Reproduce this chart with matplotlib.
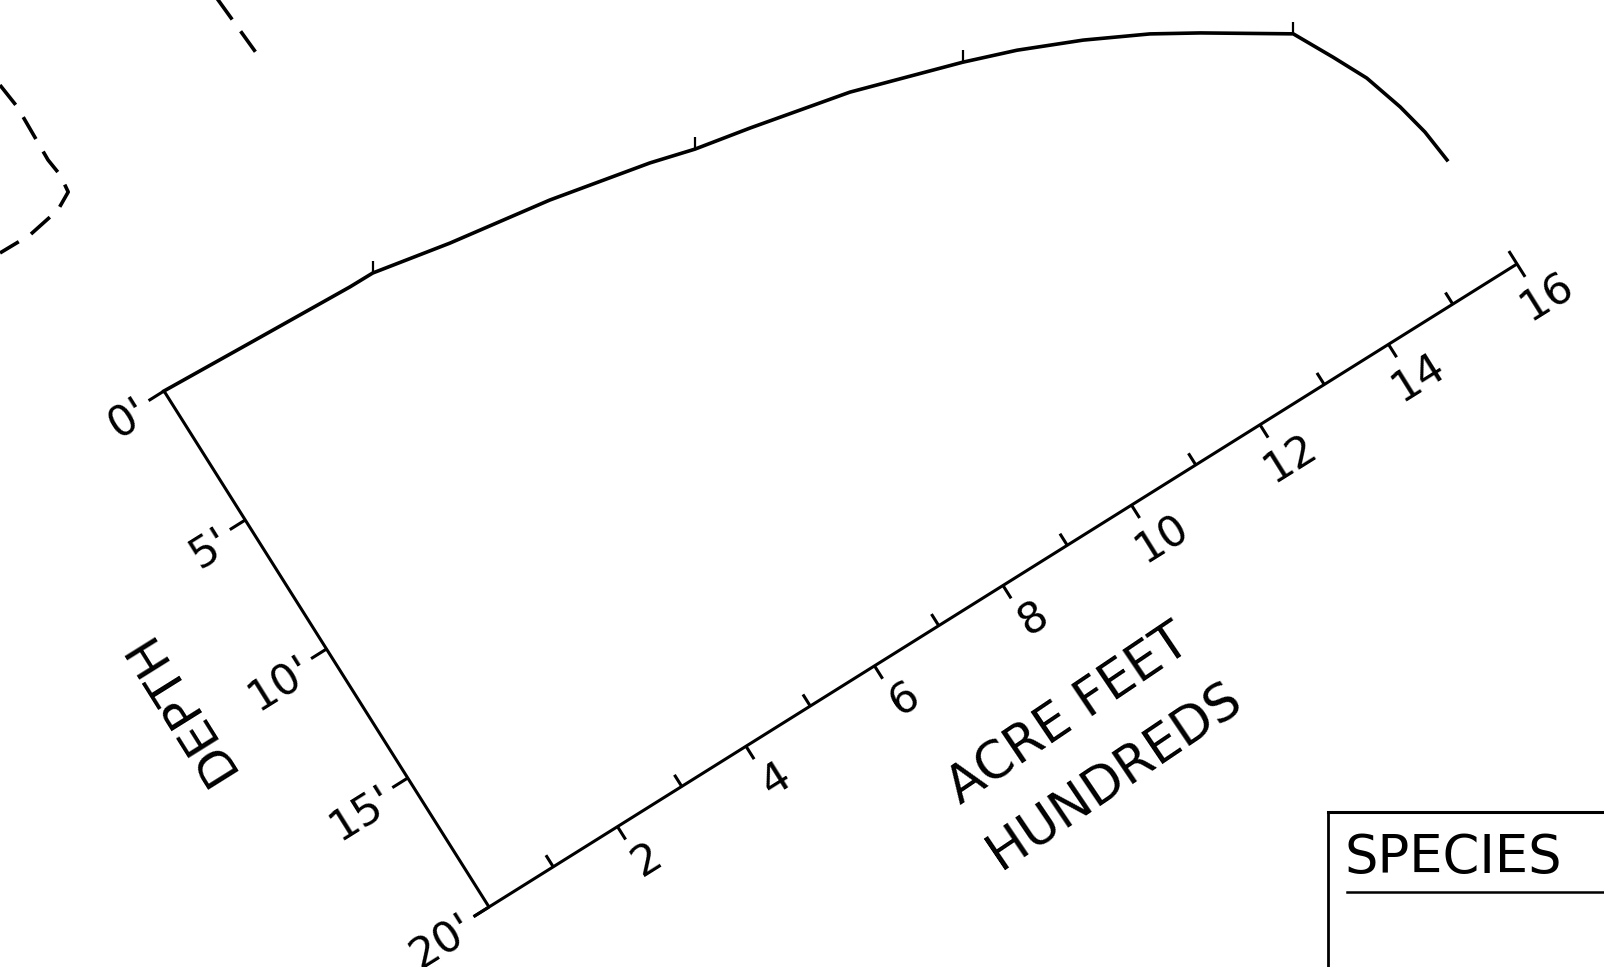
import matplotlib.pyplot as plt
from matplotlib.transforms import Affine2D

# depth scale (feet) and storage scale (acre feet, hundreds)
depth_ticks = [0, 5, 10, 15, 20]
depth_labels = ["0'", "5'", "10'", "15'", "20'"]
acre_ticks = list(range(1, 17))
acre_labels = [2, 4, 6, 8, 10, 12, 14, 16]

# capacity curve
curve_acre = [0, 1.30, 2.81, 3.16, 4.23, 5.65, 7.03, 7.63, 8.39, 9.76, 11.23,
              11.92, 12.73, 13.52, 14.09, 15.12, 15.40, 15.63, 15.80, 15.90, 15.95]
curve_depth = [0, 0.16, 0.34, 0.35, 0.86, 1.40, 2.11, 2.51, 2.88, 3.62, 4.75,
               5.36, 6.23, 7.22, 8.07, 9.71, 11.05, 12.22, 13.60, 14.73, 15.89]
curve_marks = [3, 7, 10, 15]

# dashed outlines at the upper left
outline_acre = [0.32, 0.36, 0.33, 0.36, 0.33, 0.09, -0.40, -0.86]
outline_depth = [-11.36, -10.45, -8.44, -7.81, -7.20, -6.88, -6.67, -6.69]
outline2_acre = [3.34, 3.41]
outline2_depth = [-10.5, -7.68]

fig = plt.figure(figsize=(16.04, 9.67), dpi=100)
ax = fig.add_axes([0, 0, 1, 1])
ax.set_xlim(0, 1604)
ax.set_ylim(967, 0)
ax.axis('off')

# oblique frame: x = acre feet, y = depth, drawn as on the sheet
oblique = Affine2D([[64.25, 16.25, 164], [-40.19, 25.8, 391], [0, 0, 1]]) + ax.transData

lw = 2.2
k = dict(color='black', lw=lw, transform=oblique, solid_capstyle='butt')

# axes
ax.plot([0, 0], [0, 20], **k)
ax.plot([-0.24, 16], [20, 20], **k)
for d in depth_ticks:
    ax.plot([-0.24, 0], [d, d], **k)
for a in acre_ticks:
    if a == 16:
        ax.plot([a, a], [19.5, 20.5], **k)
    elif a % 2 == 0:
        ax.plot([a, a], [20, 20.5], **k)
    else:
        ax.plot([a, a], [19.55, 20], **k)

fs = 31
for d, lab in zip(depth_ticks, depth_labels):
    ax.text(-0.33, d + 0.15, lab, rotation=32, rotation_mode='anchor',
            ha='right', va='center', fontsize=fs, transform=oblique)
for a in acre_labels:
    ax.text(a + 0.1, 21.45, str(a), rotation=32, rotation_mode='anchor',
            ha='center', va='center', fontsize=fs, transform=oblique)

ax.text(-2.05, 9.0, 'DEPTH', rotation=122, rotation_mode='anchor',
        ha='center', va='center', fontsize=36, transform=oblique)
ax.text(7.82, 24.78, 'ACRE FEET', rotation=34, rotation_mode='anchor',
        ha='center', va='center', fontsize=37, transform=oblique)
ax.text(7.90, 27.27, 'HUNDREDS', rotation=34, rotation_mode='anchor',
        ha='center', va='center', fontsize=37, transform=oblique)

# curve
ax.plot(curve_acre, curve_depth, color='black', lw=2.6, transform=oblique,
        solid_joinstyle='round', marker=2, markevery=curve_marks,
        markersize=9, markeredgewidth=1.6)

# dashed outlines
ax.plot(outline_acre, outline_depth, color='black', lw=2.6,
        linestyle=(0, (7, 4)), transform=oblique)
ax.plot(outline2_acre, outline2_depth, color='black', lw=2.6,
        linestyle=(0, (7, 4)), transform=oblique)

# species box, lower right
ax.plot([1328, 1604], [812, 812], color='black', lw=2.2)
ax.plot([1328, 1328], [812, 967], color='black', lw=2.0)
ax.plot([1347, 1604], [892, 892], color='black', lw=1.8)
ax.text(1345, 858, 'SPECIES', ha='left', va='center', fontsize=38)

fig.savefig('out.png', dpi=100, facecolor='white')
